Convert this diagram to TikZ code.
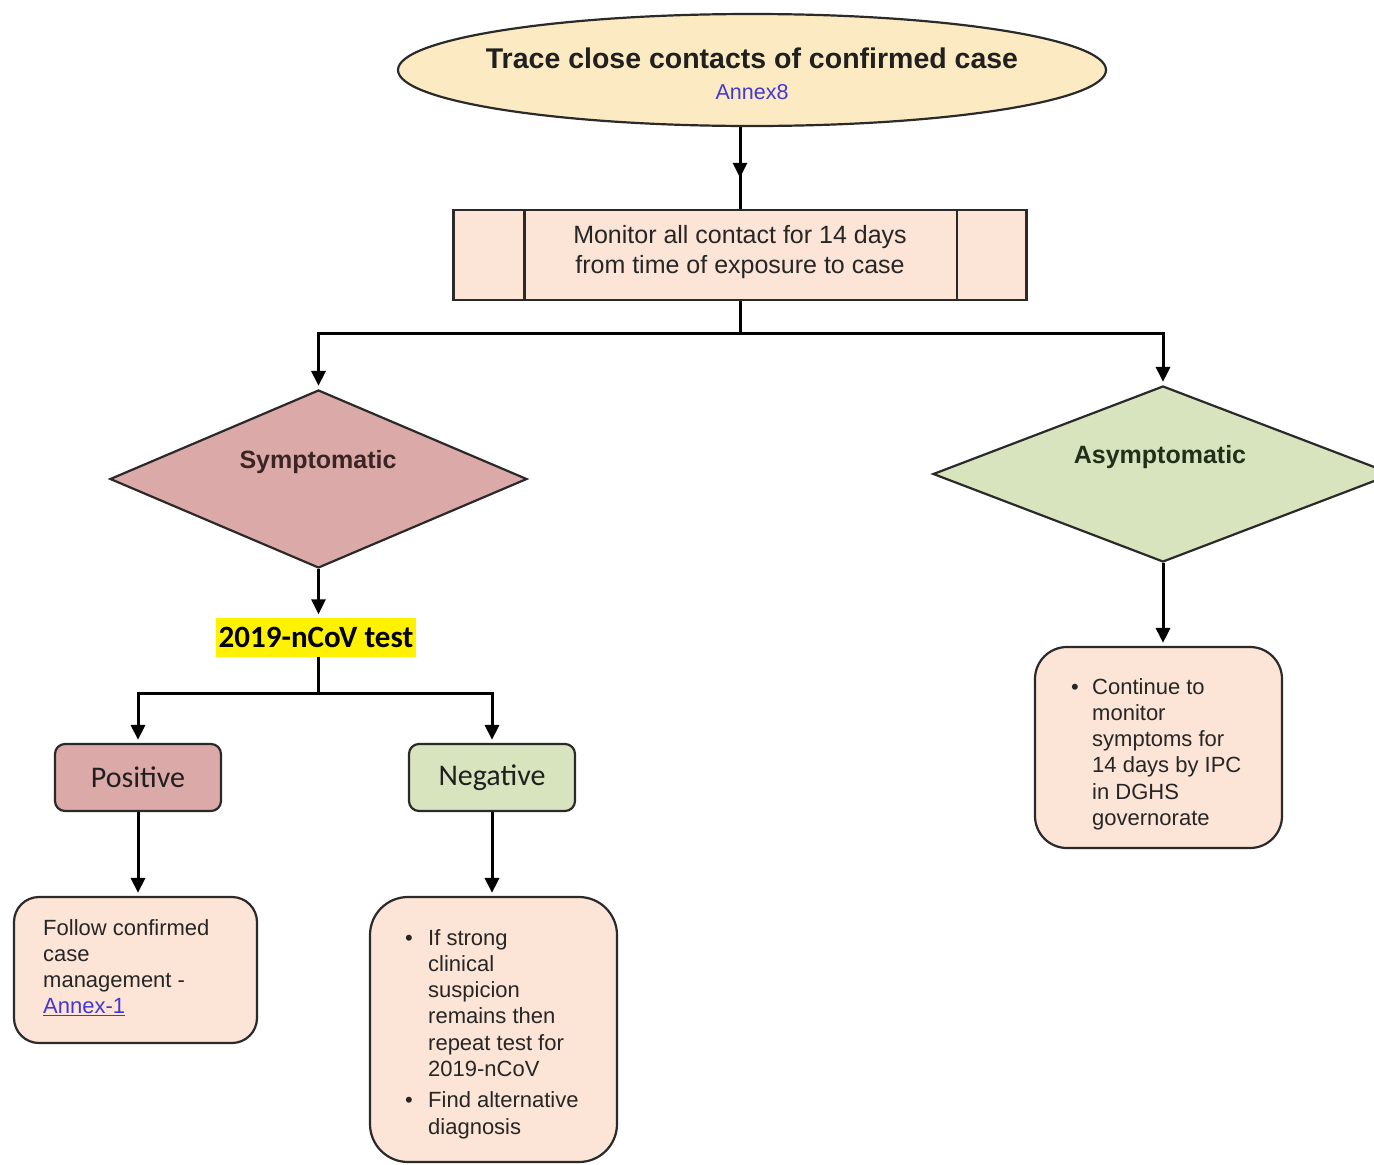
\documentclass[tikz,border=0pt]{standalone}
\usepackage{fontspec}
\setmainfont{Liberation Sans}
\newfontfamily\calibri{Carlito}
\usetikzlibrary{shapes.geometric,arrows.meta,decorations.markings}
\definecolor{bordc}{HTML}{2A2A2A}
\definecolor{ellfill}{HTML}{FCEBC2}
\definecolor{peach}{HTML}{FCE4D6}
\definecolor{pinkc}{HTML}{DCA9A9}
\definecolor{greenc}{HTML}{D7E4BE}
\definecolor{titlec}{HTML}{202020}
\definecolor{annexblue}{HTML}{4338D4}
\definecolor{symtext}{HTML}{3B2424}
\definecolor{asymtext}{HTML}{22301A}
\definecolor{bodytext}{HTML}{262626}
\begin{document}
\begin{tikzpicture}[x=1pt,y=-1pt,
  outline/.style={draw=bordc, line width=2.2pt},
  conn/.style={line width=3pt, black},
  arr/.style={conn, -{Triangle[length=15pt,width=14pt]}, shorten >=3pt},
  bodyfont/.style={font=\fontsize{22}{26.3}\selectfont, text=bodytext, inner sep=0pt, anchor=base west},
  boxnode/.style={outline, fill=peach, rounded corners=#1, inner sep=0pt},
  resnode/.style={outline, rounded corners=10pt, minimum width=166pt, minimum height=67pt, inner sep=0pt,
     font=\calibri\fontsize{30}{34}\selectfont, text=titlec}
]
\clip (0,0) rectangle (1374,1165);
\useasboundingbox (0,0) rectangle (1374,1165);
\fill[white] (0,0) rectangle (1374,1165);

% start ellipse
\node[ellipse, outline, fill=ellfill, minimum width=708pt, minimum height=112pt, inner sep=0pt] (start) at (752,70) {};
\node[font=\fontsize{28.5}{33}\selectfont\bfseries, text=titlec, inner sep=0pt] (starttitle) at (752,58) {Trace close contacts of confirmed case};
\node[font=\fontsize{21.5}{25}\selectfont, text=annexblue, inner sep=0pt] (annex8) at (752,92) {Annex8};

% process box
\node[outline, fill=peach, minimum width=573pt, minimum height=90pt, inner sep=0pt] (proc) at (740,255) {};
\draw[outline] ([xshift=72pt]proc.north west) -- ([xshift=72pt]proc.south west);
\draw[outline] ([xshift=-71pt]proc.north east) -- ([xshift=-71pt]proc.south east);
\node[font=\fontsize{25}{30}\selectfont, text=bodytext, align=center, inner sep=0pt] (proctext) at (740,252)
  {Monitor all contact for 14 days\\from time of exposure to case};

\draw[conn, postaction={decorate}, decoration={markings, mark=at position 0.62 with {\arrow{Triangle[length=15pt,width=14pt]}}}]
  (proc.north |- start.south) -- (proc.north);

% diamonds
\node[diamond, outline, fill=pinkc, minimum width=417pt, minimum height=178pt, inner sep=0pt] (symp) at (318.5,479) {};
\node[font=\fontsize{25}{30}\selectfont\bfseries, text=symtext, inner sep=0pt] (symptext) at (318,462) {Symptomatic};
\node[diamond, outline, fill=greenc, minimum width=460pt, minimum height=176pt, inner sep=0pt] (asym) at (1163,474) {};
\node[font=\fontsize{25}{30}\selectfont\bfseries, text=asymtext, inner sep=0pt] (asymtext) at (1160,457) {Asymptomatic};

\coordinate (j1) at (742,333);
\draw[conn] (proc.south) -- (proc.south |- j1);
\draw[arr] (proc.south |- j1) -| (symp.north);
\draw[arr] (proc.south |- j1) -| (asym.north);

% test
\node[fill=yellow, minimum height=39pt, inner xsep=3pt, inner ysep=0pt, font=\calibri\bfseries\fontsize{31}{36}\selectfont, text=black] (test) at (316,637) {2019-nCoV test};
\draw[arr] (symp.south) -- (symp.south |- test.north);

\node[resnode, fill=pinkc] (pos) at (138,777.5) {Positive};
\node[resnode, fill=greenc] (neg) at (492,777.5) {Negative};
\coordinate (j2) at (318,693);
\draw[conn] (symp.south |- test.south) -- (symp.south |- j2);
\draw[arr] (symp.south |- j2) -| (pos.north);
\draw[arr] (symp.south |- j2) -| (neg.north);

% result boxes
\node[boxnode=25pt, minimum width=243pt, minimum height=146pt] (follow) at (135.5,970) {};
\node[bodyfont] (followtext) at (43,935) {\begin{tabular}[t]{@{}l@{}}Follow confirmed\\case\\management -\\\textcolor{annexblue}{\underline{Annex-1}}\end{tabular}};
\draw[arr] (pos.south) -- (pos.south |- follow.north);

\node[boxnode=38pt, minimum width=247pt, minimum height=265pt] (negbox) at (493.5,1029.5) {};
\node[bodyfont] (negtext) at (405,945) {\begin{tabular}[t]{@{}p{23pt}@{}l@{}}\textbullet & If strong\\ & clinical\\ & suspicion\\ & remains then\\ & repeat test for\\ & 2019-nCoV\\[5pt] \textbullet & Find alternative\\ & diagnosis\end{tabular}};
\draw[arr] (neg.south) -- (neg.south |- negbox.north);

\node[boxnode=32pt, minimum width=247pt, minimum height=201pt] (rbox) at (1158.5,747.5) {};
\node[bodyfont] (rtext) at (1071,694) {\begin{tabular}[t]{@{}p{21pt}@{}l@{}}\textbullet & Continue to\\ & monitor\\ & symptoms for\\ & 14 days by IPC\\ & in DGHS\\ & governorate\end{tabular}};
\draw[arr] (asym.south) -- (asym.south |- rbox.north);
\end{tikzpicture}
\end{document}
